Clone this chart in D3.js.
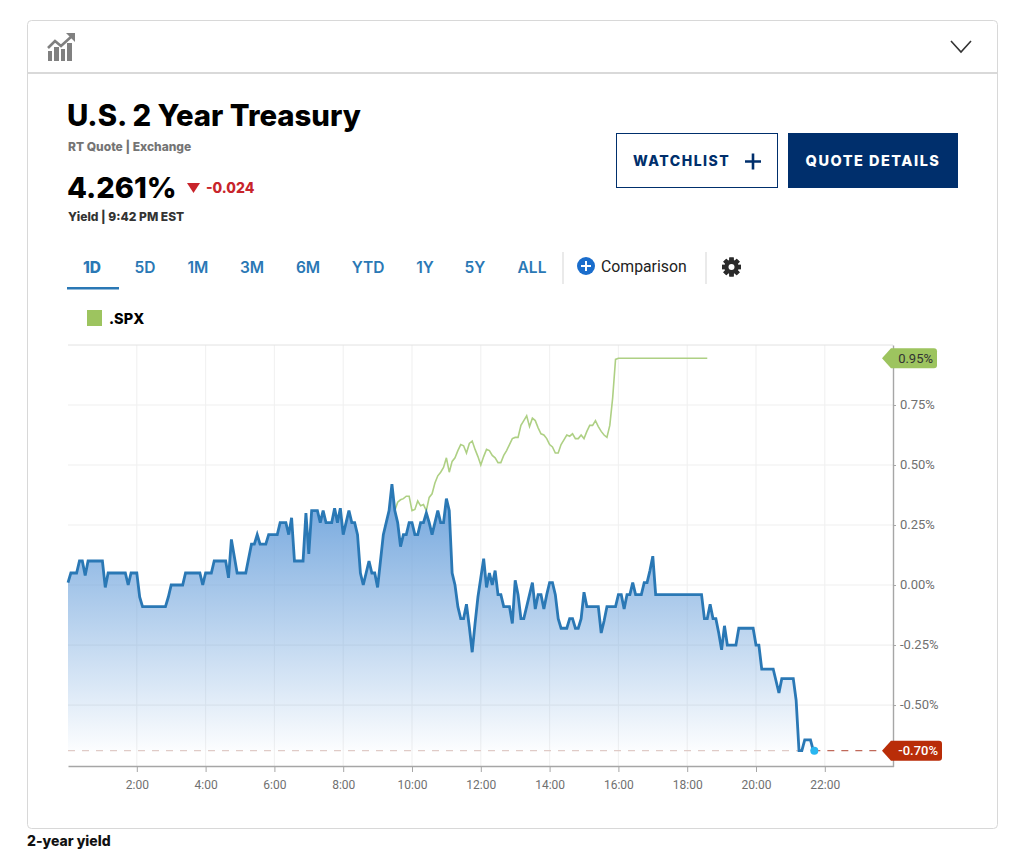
<!DOCTYPE html>
<html>
<head>
<meta charset="utf-8">
<script src="https://cdn.jsdelivr.net/npm/d3@7"></script>
<style>
  html, body { margin: 0; padding: 0; background: #fff; }
  svg { display: block; }
  .bold { font-family: Inter, sans-serif; font-weight: 800; }
  .tick text { font-family: Roboto, sans-serif; fill: #707070; }
</style>
</head>
<body>
<div id="chart"></div>
<script>
// 5 minute samples from 00:00, one row per hour
const yieldPct = [
  .01, .05, .05, .05, .10, .10, .04, .10, .10, .10, .10, .10,
  .10, -.01, .05, .05, .05, .05, .05, .05, .05, 0, .05, .05,
  .05, -.05, -.09, -.09, -.09, -.09, -.09, -.09, -.09, -.09, -.09, -.05,
  0, 0, 0, 0, 0, .05, .05, .05, .05, .05, .05, 0,
  .05, .05, .05, .10, .10, .10, .10, .10, .03, .19, .12, .05,
  .05, .05, .05, .11, .17, .17, .21, .17, .17, .17, .21, .21,
  .21, .21, .26, .26, .26, .21, .28, .10, .10, .10, .10, .30,
  .13, .31, .31, .31, .26, .31, .26, .26, .26, .32, .26, .32,
  .21, .26, .31, .26, .26, .21, .05, 0, .05, .10, .05, .05,
  -.01, .10, .21, .26, .31, .42, .31, .26, .16, .21, .21, .26,
  .26, .21, .21, .26, .26, .30, .26, .21, .26, .31, .26, .26,
  .36, .31, .05, 0, -.09, -.14, -.14, -.08, -.175, -.28, -.16, -.05,
  .03, .11, -.01, .05, 0, .06, -.04, -.04, -.09, -.09, -.09, -.16,
  .02, -.04, -.14, -.14, -.09, -.04, .01, -.10, -.04, -.04, -.10, -.04,
  .01, .01, -.04, -.14, -.18, -.18, -.18, -.14, -.14, -.18, -.18, -.14,
  -.03, -.09, -.09, -.09, -.09, -.09, -.20, -.15, -.09, -.09, -.09, -.09,
  -.04, -.04, -.10, -.04, -.04, .01, -.04, -.04, -.04, .01, .01, .06,
  .12, -.04, -.04, -.04, -.04, -.04, -.04, -.04, -.04, -.04, -.04, -.04,
  -.04, -.04, -.04, -.04, -.04, -.04, -.14, -.14, -.08, -.14, -.14, -.20,
  -.27, -.17, -.25, -.25, -.25, -.25, -.18, -.18, -.18, -.18, -.18, -.18,
  -.25, -.25, -.35, -.35, -.35, -.35, -.35, -.40, -.45, -.39, -.39, -.39,
  -.39, -.39, -.48, -.69, -.69, -.645, -.645, -.645, -.69
];

// same spacing, starts at the 09:30 open
const spxStart = 570;
const spxPct = [
  .31, .345, .355, .36, .37, .37, .31, .315, .35, .33, .335, .31,
  .365, .38, .425, .455, .47, .49, .53, .47, .515, .53, .56, .585,
  .58, .55, .59, .60, .565, .535, .50, .535, .565, .56, .54, .53,
  .51, .51, .54, .56, .585, .61, .615, .615, .665, .685, .705, .66,
  .695, .685, .655, .63, .625, .61, .585, .575, .55, .55, .585, .605,
  .625, .62, .63, .61, .61, .625, .61, .64, .665, .665, .685, .66,
  .64, .625, .615, .665, .78, .94, .945, .945, .945, .945, .945, .945,
  .945, .945, .945, .945, .945, .945, .945, .945, .945, .945, .945, .945,
  .945, .945, .945, .945, .945, .945, .945, .945, .945, .945, .945, .945,
  .945, .945
];

const hourTicks = [120, 240, 360, 480, 600, 720, 840, 960, 1080, 1200, 1320];
const hourLabels = ['2:00', '4:00', '6:00', '8:00', '10:00', '12:00', '14:00', '16:00', '18:00', '20:00', '22:00'];
const pctTicks = [0.75, 0.5, 0.25, 0, -0.25, -0.5];
const pctLabels = ['0.75%', '0.50%', '0.25%', '0.00%', '-0.25%', '-0.50%'];
const rangeTabs = ['1D', '5D', '1M', '3M', '6M', 'YTD', '1Y', '5Y', 'ALL'];
const tabCenters = [92, 145, 198, 252, 308, 368, 425, 475, 532];
const spxLast = '0.95%';
const yieldLast = '-0.70%';

const BLUE = '#2a78b5', NAVY = '#002f6c', GREEN = '#9dc45f', RED = '#b92d08';

const svg = d3.select('#chart').append('svg').attr('width', 1016).attr('height', 858);

function label(x, y, str, size, fill, cls, anchor) {
  return svg.append('text').attr('x', x).attr('y', y).text(str)
    .attr('font-size', size).attr('fill', fill)
    .attr('class', cls || null).attr('text-anchor', anchor || 'start');
}

// card
svg.append('rect').attr('x', 27.5).attr('y', 20.5).attr('width', 970).attr('height', 808)
  .attr('rx', 4).attr('fill', '#fff').attr('stroke', '#d8d8d8');
svg.append('line').attr('x1', 28).attr('x2', 997).attr('y1', 73).attr('y2', 73)
  .attr('stroke', '#d9d9d9').attr('stroke-width', 2);

// header icon
const icon = svg.append('g').attr('fill', '#808080');
[[48, 51, 4, 10], [54, 47, 5, 14], [61, 49, 4, 12], [67, 43, 5, 18]].forEach(b => {
  icon.append('rect').attr('x', b[0]).attr('y', b[1]).attr('width', b[2]).attr('height', b[3]);
});
svg.append('path').attr('d', 'M48 48L55 41L61 46L72 36').attr('fill', 'none').attr('stroke', '#808080').attr('stroke-width', 2.6);
svg.append('path').attr('d', 'M66 33L75 33L75 42Z').attr('fill', '#808080');
svg.append('path').attr('d', 'M951 41L961 52L971 41').attr('fill', 'none').attr('stroke', '#333').attr('stroke-width', 1.6);

// quote block
label(67, 126, 'U.S. 2 Year Treasury', 29.3, '#000', 'bold').attr('font-weight', 900);
label(68, 151, 'RT Quote | Exchange', 12, '#747474', 'bold');
label(67, 198, '4.261%', 29, '#000', 'bold').attr('font-weight', 900);
svg.append('path').attr('d', 'M187 183L200 183L193.500 193Z').attr('fill', '#c8242b');
label(206, 193, '-0.024', 14, '#c8242b', 'bold');
label(68, 221, 'Yield | 9:42 PM EST', 12, '#333', 'bold');

// buttons
svg.append('rect').attr('x', 616.5).attr('y', 133.5).attr('width', 161).attr('height', 54)
  .attr('fill', '#fff').attr('stroke', NAVY);
label(633, 165.5, 'WATCHLIST', 14, NAVY, 'bold').attr('letter-spacing', 1.5);
svg.append('path').attr('d', 'M745 161.500H761M753 153.500V169.500').attr('stroke', NAVY).attr('stroke-width', 2.6);
svg.append('rect').attr('x', 788).attr('y', 133).attr('width', 170).attr('height', 55).attr('fill', NAVY);
label(873, 165.5, 'QUOTE DETAILS', 14.5, '#fff', 'bold', 'middle').attr('letter-spacing', 1.5);

// range tabs
svg.selectAll('text.tab').data(rangeTabs).join('text')
  .attr('class', 'tab').attr('x', (d, i) => tabCenters[i]).attr('y', 272.5)
  .attr('text-anchor', 'middle').attr('fill', BLUE)
  .attr('font-family', 'Inter, sans-serif').attr('font-weight', (d, i) => i === 0 ? 800 : 600)
  .attr('font-size', 15.5).text(d => d);
svg.append('rect').attr('x', 67).attr('y', 287).attr('width', 52).attr('height', 2.5).attr('fill', BLUE);
svg.append('path').attr('d', 'M563 252V284M706 252V284').attr('stroke', '#d5d5d5').attr('stroke-width', 1);
svg.append('circle').attr('cx', 586).attr('cy', 266).attr('r', 9).attr('fill', '#1a6dcc');
svg.append('path').attr('d', 'M581 266H591M586 261V271').attr('stroke', '#fff').attr('stroke-width', 2);
label(601, 272, 'Comparison', 15.8, '#222').attr('font-family', 'Roboto, sans-serif');

// gear
const gear = svg.append('g').attr('transform', 'translate(731.500,267)');
d3.range(8).forEach(i => {
  gear.append('rect').attr('x', -2.2).attr('y', -9.500).attr('width', 4.4).attr('height', 19)
    .attr('fill', '#2b2b2b').attr('transform', `rotate(${i * 45})`);
});
gear.append('path').attr('fill', '#2b2b2b').attr('d', d3.arc()({ innerRadius: 3, outerRadius: 7.2, startAngle: 0, endAngle: Math.PI * 2 }));
gear.append('circle').attr('r', 3).attr('fill', '#fff');

// legend
svg.append('rect').attr('x', 87).attr('y', 310).attr('width', 15).attr('height', 16).attr('fill', GREEN);
label(109, 323.5, '.SPX', 14.5, '#000', 'bold');

// scales
const x = d3.scaleLinear().domain([0, 1440]).range([68, 893.6]);
const y = d3.scaleLinear().domain([-0.754, 1]).range([766, 345]);

const yieldPts = yieldPct.map((v, i) => ({ t: i * 5, v: v }));
const spxPts = spxPct.map((v, i) => ({ t: spxStart + i * 5, v: v }));
const lastPt = yieldPts[yieldPts.length - 1];

// grid
svg.append('g').selectAll('line').data(hourTicks).join('line')
  .attr('x1', d => x(d)).attr('x2', d => x(d)).attr('y1', 345).attr('y2', 766)
  .attr('stroke', '#f2f2f2').attr('stroke-width', 1.2);
svg.append('g').selectAll('line').data(pctTicks).join('line')
  .attr('x1', 68).attr('x2', 893).attr('y1', d => y(d)).attr('y2', d => y(d))
  .attr('stroke', '#f0f0f0').attr('stroke-width', 1.2);
svg.append('line').attr('x1', 68).attr('x2', 893).attr('y1', 345).attr('y2', 345).attr('stroke', '#e2e2e2');

// area
const grad = svg.append('defs').append('linearGradient').attr('id', 'fade')
  .attr('gradientUnits', 'userSpaceOnUse').attr('x1', 0).attr('x2', 0)
  .attr('y1', y(0.42)).attr('y2', y(lastPt.v));
grad.append('stop').attr('offset', 0).attr('stop-color', '#6ea3dc');
grad.append('stop').attr('offset', 1).attr('stop-color', '#6ea3dc').attr('stop-opacity', 0.02);

const area = d3.area().x(d => x(d.t)).y0(y(lastPt.v)).y1(d => y(d.v));
const line = d3.line().x(d => x(d.t)).y(d => y(d.v));

svg.append('path').datum(yieldPts).attr('d', area).attr('fill', 'url(#fade)');

// last value guides
svg.append('line').attr('x1', 68).attr('x2', x(lastPt.t)).attr('y1', y(lastPt.v)).attr('y2', y(lastPt.v))
  .attr('stroke', '#e0cbc7').attr('stroke-dasharray', '7 7').attr('stroke-width', 1.2);
svg.append('line').attr('x1', x(lastPt.t)).attr('x2', 884).attr('y1', y(lastPt.v)).attr('y2', y(lastPt.v))
  .attr('stroke', '#c0695a').attr('stroke-dasharray', '7 7').attr('stroke-width', 1.2);

// lines
svg.append('path').datum(spxPts).attr('d', line).attr('fill', 'none')
  .attr('stroke', '#aed084').attr('stroke-width', 1.6);
svg.append('path').datum(yieldPts).attr('d', line).attr('fill', 'none')
  .attr('stroke', BLUE).attr('stroke-width', 2.8);
svg.append('circle').attr('cx', x(lastPt.t) + 1).attr('cy', y(lastPt.v)).attr('r', 4).attr('fill', '#29b6f0');

// axes
const xAxis = d3.axisBottom(x).tickValues(hourTicks).tickFormat((d, i) => hourLabels[i]).tickSize(6).tickSizeOuter(0);
const gx = svg.append('g').attr('transform', 'translate(0,766)').call(xAxis);
gx.selectAll('text').attr('dy', '1.15em').attr('font-size', 12);
const yAxis = d3.axisRight(y).tickValues(pctTicks).tickFormat((d, i) => pctLabels[i]).tickSize(3).tickSizeOuter(0);
const gy = svg.append('g').attr('transform', 'translate(893,0)').call(yAxis);
gy.selectAll('text').attr('x', 7).attr('font-size', 13).attr('dy', '0.25em');
[gx, gy].forEach(g => {
  g.selectAll('.domain').attr('stroke', '#a6a6a6').attr('stroke-width', 1.4);
  g.selectAll('.tick line').attr('stroke', '#a6a6a6');
});

// last value flags
function flag(py, right, fill, str) {
  const top = py - 10, bot = py + 10;
  svg.append('path').attr('fill', fill)
    .attr('d', `M882 ${py}L891 ${top}H${right - 3}Q${right} ${top} ${right} ${top + 3}V${bot - 3}Q${right} ${bot} ${right - 3} ${bot}H891Z`);
  svg.append('text').attr('x', right - 4).attr('y', py + 4.500).attr('text-anchor', 'end')
    .attr('font-family', 'Roboto, sans-serif').attr('font-size', 13).attr('font-weight', fill === RED ? 500 : 400)
    .attr('fill', fill === RED ? '#fff' : '#333')
    .text(str);
}
flag(y(spxPct[spxPct.length - 1]), 937, GREEN, spxLast);
flag(y(lastPt.v), 942, RED, yieldLast);

label(27, 846, '2-year yield', 14, '#111', 'bold');
</script>
</body>
</html>
